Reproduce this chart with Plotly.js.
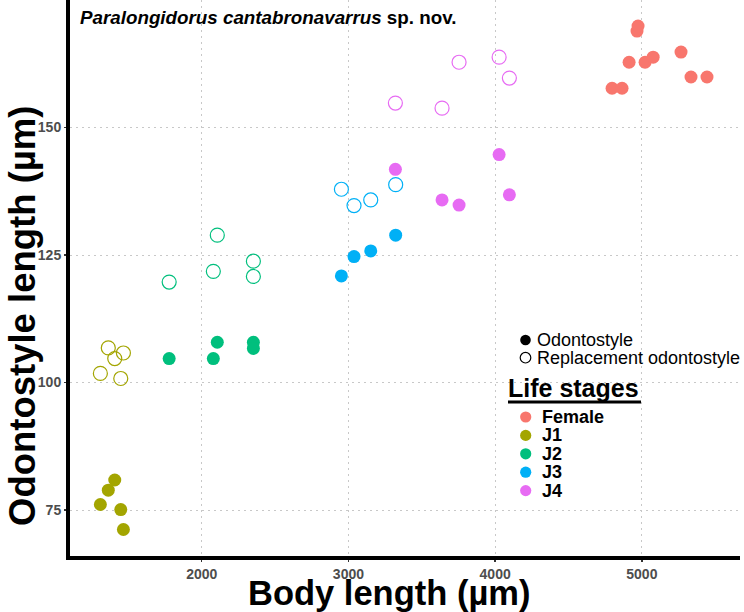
<!DOCTYPE html>
<html>
<head>
<meta charset="utf-8">
<script src="https://cdn.plot.ly/plotly-3.0.1.min.js"></script>
<style>html,body{margin:0;padding:0;background:#fff;}#chart{width:744px;height:612px;}</style>
</head>
<body>
<div id="chart"></div>
<script>
// ---- data ----
var stages = ['Female', 'J1', 'J2', 'J3', 'J4'];
var stageColors = ['#F8766D', '#A3A500', '#00BF7D', '#00B0F6', '#E76BF3'];

var femaleBody = [4797, 4865, 4913, 4967, 4974, 5022, 5077, 5267, 5335, 5444];
var femaleOdonto = [157.7, 157.7, 162.8, 168.9, 169.9, 162.8, 163.8, 164.8, 159.9, 159.9];
var femaleRepl = [];

var j1Body = [1309, 1363, 1407, 1448, 1466];
var j1Odonto = [76.1, 78.9, 80.9, 75.1, 71.2];
var j1Repl = [101.8, 106.8, 104.7, 100.8, 105.8];

var j2Body = [1778, 2079, 2106, 2352, 2352];
var j2Odonto = [104.7, 104.7, 107.9, 107.9, 106.7];
var j2Repl = [119.7, 121.8, 128.9, 123.8, 120.8];

var j3Body = [2952, 3038, 3152, 3322];
var j3Odonto = [120.9, 124.7, 125.8, 128.9];
var j3Repl = [137.9, 134.7, 135.8, 138.8];

var j4Body = [3320, 3638, 3754, 4027, 4097];
var j4Odonto = [141.8, 135.8, 134.8, 144.7, 136.8];
var j4Repl = [154.8, 153.8, 162.8, 163.8, 159.7];

var xTicks = [2000, 3000, 4000, 5000];
var yTicks = [75, 100, 125, 150];
var markerLegend = ['Odontostyle', 'Replacement odontostyle'];
var xTitle = 'Body length (µm)';
var yTitle = 'Odontostyle length (µm)';

// ---- build ----
var FONT = 'Liberation Sans, Arial, sans-serif';
var W = 744, H = 612;
var M = {l: 70, r: 4, t: 0, b: 56};
var PW = W - M.l - M.r, PH = H - M.t - M.b;
function px(x) { return (x - M.l) / PW; }
function py(y) { return (H - M.b - y) / PH; }

var bodies = [femaleBody, j1Body, j2Body, j3Body, j4Body];
var odontos = [femaleOdonto, j1Odonto, j2Odonto, j3Odonto, j4Odonto];
var repls = [femaleRepl, j1Repl, j2Repl, j3Repl, j4Repl];

var traces = [];
for (var i = 0; i < stages.length; i++) {
  if (repls[i].length) {
    traces.push({
      type: 'scatter', mode: 'markers', name: stages[i] + ' (replacement)',
      x: bodies[i], y: repls[i], showlegend: false, hoverinfo: 'x+y',
      marker: {symbol: 'circle-open', size: 14, color: stageColors[i], line: {width: 1.2, color: stageColors[i]}}
    });
  }
}
for (var i = 0; i < stages.length; i++) {
  traces.push({
    type: 'scatter', mode: 'markers', name: stages[i],
    x: bodies[i], y: odontos[i], showlegend: false, hoverinfo: 'x+y',
    marker: {symbol: 'circle', size: 13, color: stageColors[i]}
  });
}

var shapes = [], annotations = [];
// axis titles
annotations.push({xref: 'paper', yref: 'paper', x: px(388.5), y: py(592.5), xanchor: 'center', yanchor: 'middle',
  showarrow: false, text: '<b>' + xTitle + '</b>', font: {family: FONT, size: 34.5, color: '#000'}});
annotations.push({xref: 'paper', yref: 'paper', x: px(22), y: py(316), xanchor: 'center', yanchor: 'middle',
  textangle: -90, showarrow: false, text: '<b>' + yTitle + '</b>', font: {family: FONT, size: 36.5, color: '#000'}});
// marker-type legend
var mlY = [340, 357.7];
for (var k = 0; k < markerLegend.length; k++) {
  shapes.push({type: 'circle', xref: 'paper', yref: 'paper', xsizemode: 'pixel', ysizemode: 'pixel',
    xanchor: px(525.5), yanchor: py(mlY[k]), x0: -5.3, x1: 5.3, y0: -5.3, y1: 5.3,
    fillcolor: k === 0 ? '#000' : 'rgba(0,0,0,0)', line: {color: '#000', width: k === 0 ? 0 : 1.2}});
  annotations.push({xref: 'paper', yref: 'paper', x: px(535), y: py(mlY[k]), xanchor: 'left', yanchor: 'middle',
    showarrow: false, text: markerLegend[k], font: {family: FONT, size: 18, color: '#000'}});
}
// life stage legend
annotations.push({xref: 'paper', yref: 'paper', x: px(506), y: py(388), xanchor: 'left', yanchor: 'middle',
  showarrow: false, text: '<b>Life stages</b>', font: {family: FONT, size: 25, color: '#000'}});
shapes.push({type: 'line', xref: 'paper', yref: 'paper', x0: px(508), x1: px(641), y0: py(402), y1: py(402),
  line: {color: '#000', width: 3}});
for (var i = 0; i < stages.length; i++) {
  var yy = 417 + i * 18.4;
  shapes.push({type: 'circle', xref: 'paper', yref: 'paper', xsizemode: 'pixel', ysizemode: 'pixel',
    xanchor: px(525.7), yanchor: py(yy), x0: -5.6, x1: 5.6, y0: -5.6, y1: 5.6,
    fillcolor: stageColors[i], line: {width: 0}});
  annotations.push({xref: 'paper', yref: 'paper', x: px(540), y: py(yy), xanchor: 'left', yanchor: 'middle',
    showarrow: false, text: '<b>' + stages[i] + '</b>', font: {family: FONT, size: 18, color: '#000'}});
}

var axisCommon = {
  showline: true, linecolor: '#000', linewidth: 4, mirror: false,
  showgrid: true, gridcolor: '#C8C8C8', gridwidth: 1, griddash: '2px,4px',
  zeroline: false, ticks: 'outside', ticklen: 2, tickwidth: 1.5, tickcolor: '#333',
  tickfont: {family: FONT, size: 14, color: '#4D4D4D', weight: 'bold'}
};

var layout = {
  width: W, height: H, margin: M,
  paper_bgcolor: '#fff', plot_bgcolor: '#fff',
  showlegend: false,
  title: {text: '<b><i>Paralongidorus cantabronavarrus</i> sp. nov.</b>', xref: 'container', yref: 'container',
    x: 80 / W, xanchor: 'left', y: 1 - 17 / H, yanchor: 'middle',
    font: {family: FONT, size: 18.8, color: '#000'}},
  xaxis: Object.assign({}, axisCommon, {
    range: [1102, 5669], tickvals: xTicks, ticktext: xTicks.map(String)
  }),
  yaxis: Object.assign({}, axisCommon, {
    range: [66, 175], tickvals: yTicks, ticktext: yTicks.map(String)
  }),
  shapes: shapes, annotations: annotations
};

Plotly.newPlot('chart', traces, layout, {staticPlot: true, displayModeBar: false});
</script>
</body>
</html>
